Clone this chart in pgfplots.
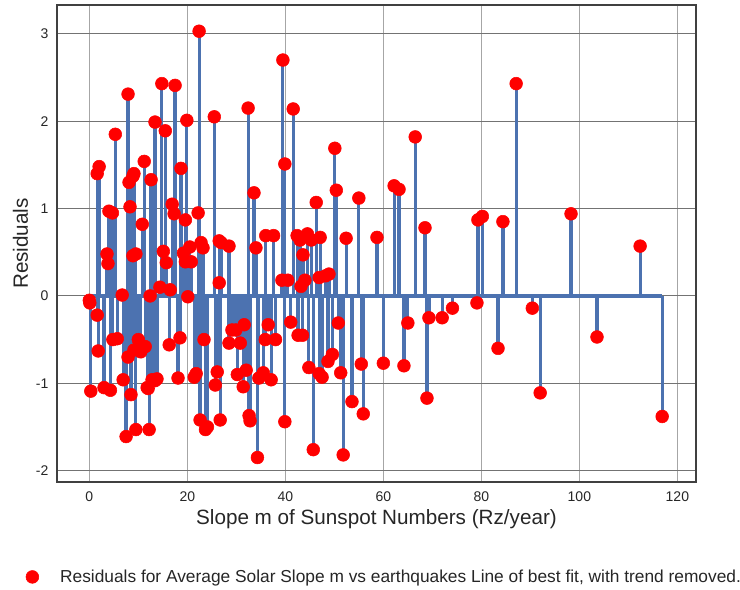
\documentclass[border=0pt]{standalone}
\usepackage{pgfplots}
\pgfplotsset{compat=1.18}
\usepackage{pgfplotstable}
\usepackage{fontspec}
\setmainfont{Liberation Sans}
\definecolor{stemblue}{HTML}{4C72B0}
\definecolor{txt}{HTML}{262626}
\pgfplotstableread{
x y
0.0 -0.05
0.1 -0.08
0.3 -1.09
1.6 -0.22
1.6 1.40
2.0 1.48
1.8 -0.63
3.0 -1.05
3.6 0.48
3.8 0.37
4.0 0.97
4.3 -1.08
4.7 0.95
5.3 1.85
4.8 -0.50
5.7 -0.49
6.7 0.01
6.9 -0.96
7.5 -1.61
7.9 2.31
7.9 -0.70
8.1 1.30
8.3 1.02
8.5 -1.13
8.9 1.37
9.1 1.40
8.9 0.46
9.1 -0.62
9.5 0.48
9.5 -1.53
10.0 -0.50
10.5 -0.64
10.8 0.82
11.2 1.54
11.4 -0.58
11.8 -1.05
12.0 -1.06
12.2 -1.53
12.4 0.00
12.6 1.33
12.8 -0.96
13.4 1.99
13.4 -0.97
13.8 -0.95
14.4 0.10
14.8 2.43
15.1 0.51
15.5 1.89
15.7 0.38
16.3 -0.56
16.5 0.07
16.9 1.05
17.3 0.94
17.5 2.41
18.1 -0.94
18.5 -0.48
18.7 1.46
19.2 0.49
19.6 0.39
19.6 0.87
19.9 2.01
20.1 -0.01
20.5 0.56
20.8 0.39
21.4 -0.93
21.8 -0.89
22.4 3.03
22.2 0.95
22.6 -1.42
22.8 0.61
23.2 0.55
23.4 -0.50
23.7 -1.53
24.1 -1.50
25.5 2.05
25.7 -1.02
26.1 -0.87
26.5 0.63
26.5 0.15
26.7 -1.42
26.9 0.61
28.5 0.57
28.5 -0.54
29.1 -0.39
29.9 -0.39
30.2 -0.90
30.8 -0.54
31.4 -1.04
31.6 -0.33
32.0 -0.85
32.4 2.15
32.6 -1.37
32.8 -1.43
33.6 1.18
34.0 0.55
34.3 -1.85
34.6 -0.94
35.5 -0.88
36.0 0.69
35.9 -0.50
36.5 -0.33
37.1 -0.96
37.6 0.69
38.0 -0.50
39.3 0.18
39.5 2.70
39.9 -1.44
39.9 1.51
40.5 0.18
41.1 -0.30
41.6 2.14
42.4 0.69
42.6 -0.45
43.0 0.64
43.2 0.11
43.5 -0.45
43.6 0.47
44.0 0.18
44.5 0.71
44.8 -0.82
45.3 0.64
45.7 -1.76
46.3 1.07
46.9 -0.89
46.9 0.21
47.1 0.67
47.5 -0.93
48.2 0.23
48.7 -0.75
48.9 0.25
49.6 -0.67
50.1 1.69
50.4 1.21
50.8 -0.31
51.3 -0.88
51.8 -1.82
52.4 0.66
53.6 -1.21
55.0 1.12
55.5 -0.78
55.9 -1.35
58.7 0.67
60.0 -0.77
62.2 1.26
63.2 1.22
64.2 -0.80
65.0 -0.31
66.5 1.82
68.5 0.78
68.9 -1.17
69.3 -0.25
72.0 -0.25
74.1 -0.14
79.3 0.87
79.1 -0.08
80.2 0.91
83.4 -0.60
84.4 0.85
87.1 2.43
90.4 -0.14
92.0 -1.11
98.3 0.94
103.6 -0.47
112.4 0.57
116.9 -1.38
}\data
\begin{document}
\begin{tikzpicture}
\begin{axis}[
  scale only axis,
  width=479.25pt, height=357.75pt,
  xmin=-6.6, xmax=123.8, ymin=-2.13, ymax=3.33,
  xtick={0,20,40,60,80,100,120},
  ytick={-2,-1,0,1,2,3},
  major tick length=0pt,
  /pgf/number format/assume math mode=true,
  tick label style={font=\fontsize{10.5}{12}\selectfont, text=txt},
  xticklabel style={yshift=-4pt},
  yticklabel style={xshift=-3pt},
  xlabel={Slope m of Sunspot Numbers (Rz/year)},
  ylabel={Residuals},
  label style={font=\fontsize{15.5}{18}\selectfont, text=txt},
  xlabel style={yshift=1pt},
  ylabel style={yshift=-1pt},
  axis line style={draw=black!75, line width=0.9pt},
  grid=major,
  x grid style={draw=black!35, line width=0.8pt},
  y grid style={draw=black!55, line width=0.8pt},
  legend style={draw=none, fill=none, at={(axis description cs:-0.0552,-0.199)}, anchor=west,
    font=\fontsize{13}{15}\selectfont, text=txt},
  legend cell align=left,
]
\addlegendimage{only marks, mark=*, mark options={draw=red, fill=red}, mark size=4.8pt}
\addlegendentry{\hspace{14pt}Residuals for Average Solar Slope m vs earthquakes Line of best fit, with trend removed.}
\addplot[only marks, mark=*, mark options={draw=red, fill=red}, mark size=4.8pt, forget plot] table {\data};
\addplot[ycomb, draw=stemblue, line width=2.4pt, no marks, forget plot] table {\data};
\addplot[draw=stemblue, line width=2.4pt, no marks, forget plot] coordinates {(0,0) (116.9,0)};
\coordinate (bl) at (axis description cs:-0.0892,-0.2264);
\coordinate (tr) at (axis description cs:1.0689,1.0105);
\end{axis}
\pgfresetboundingbox
\path[use as bounding box] (bl) rectangle (tr);
\end{tikzpicture}
\end{document}
